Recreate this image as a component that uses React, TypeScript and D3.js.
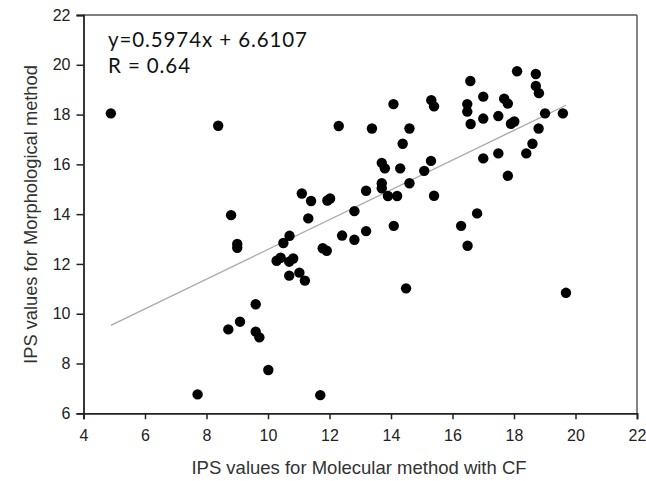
import React, { useEffect, useRef } from "react";
import * as d3 from "d3";

const xValues: number[] = [
  4.89, 8.38, 8.8, 9.0, 9.0, 7.71, 8.71, 9.09, 9.6, 9.6, 9.72, 10.01, 11.7, 10.28, 10.41, 10.69, 10.82,
  10.69, 11.02, 11.2, 10.5, 10.7, 11.1, 11.4, 11.31, 11.78, 11.91, 11.93, 12.02, 12.3, 12.41, 12.81,
  12.81, 13.19, 13.19, 13.38, 13.7, 13.8, 13.7, 13.7, 13.9, 14.08, 14.2, 14.3, 14.38, 14.6, 14.6, 14.09,
  14.49, 15.08, 15.3, 15.31, 15.4, 15.4, 16.28, 16.49, 16.8, 16.48, 16.48, 16.58, 16.59, 17.0, 17.0,
  17.0, 17.49, 17.49, 17.68, 17.8, 17.9, 18.01, 18.1, 17.8, 18.4, 18.6, 18.8, 18.71, 18.71, 18.81,
  19.01, 19.59, 19.69,
];
const yValues: number[] = [
  18.05, 17.55, 13.96, 12.8, 12.65, 6.76, 9.37, 9.68, 10.38, 9.28, 9.05, 7.74, 6.73, 12.13, 12.25, 12.09,
  12.22, 11.53, 11.65, 11.33, 12.84, 13.13, 14.83, 14.53, 13.83, 12.63, 12.53, 14.55, 14.63, 17.54,
  13.14, 14.12, 12.97, 14.94, 13.32, 17.44, 16.06, 15.84, 15.24, 15.04, 14.73, 18.42, 14.73, 15.84,
  16.83, 17.44, 15.24, 13.53, 11.02, 15.74, 16.14, 18.58, 18.33, 14.74, 13.53, 12.73, 14.03, 18.42,
  18.12, 19.35, 17.62, 18.72, 17.84, 16.24, 17.94, 16.44, 18.64, 18.44, 17.63, 17.72, 19.74, 15.54,
  16.44, 16.83, 17.44, 19.63, 19.15, 18.86, 18.05, 18.05, 10.84,
];
const xTicks: number[] = [4, 6, 8, 10, 12, 14, 16, 18, 20, 22];
const yTicks: number[] = [6, 8, 10, 12, 14, 16, 18, 20, 22];
const slope = 0.5974;
const intercept = 6.6107;
const equationText = "y=0.5974x + 6.6107";
const rText = "R = 0.64";
const xTitle = "IPS values for Molecular method with CF";
const yTitle = "IPS values for Morphological method";

const W = 646;
const H = 481;
const left = 83.5;
const right = 637;
const top = 15;
const bottom = 413.3;

export default function App() {
  const ref = useRef<SVGSVGElement | null>(null);

  useEffect(() => {
    const svg = d3.select(ref.current);
    svg.selectAll("*").remove();
    const x = d3.scaleLinear().domain([4, 22]).range([left, right]);
    const y = d3.scaleLinear().domain([6, 22]).range([bottom, top]);
    const font = "'Liberation Sans', Arial, sans-serif";

    // frame (top and right)
    svg.append("line").attr("x1", left).attr("x2", right).attr("y1", top).attr("y2", top)
      .attr("stroke", "#555").attr("stroke-width", 1.6);
    svg.append("line").attr("x1", right).attr("x2", right).attr("y1", top).attr("y2", bottom)
      .attr("stroke", "#666").attr("stroke-width", 1.6);

    const gx = svg.append("g").attr("transform", `translate(0,${bottom})`)
      .call(d3.axisBottom(x).tickValues(xTicks).tickSize(6).tickPadding(10.5).tickFormat(d3.format("d")) as any);
    const gy = svg.append("g").attr("transform", `translate(${left},0)`)
      .call(d3.axisLeft(y).tickValues(yTicks).tickSize(7).tickPadding(6).tickFormat(d3.format("d")) as any);
    [gx, gy].forEach((g) => {
      g.select(".domain").attr("stroke", "#222").attr("stroke-width", 1.8);
      g.selectAll(".tick line").attr("stroke", "#222").attr("stroke-width", 1.5);
      g.selectAll(".tick text").attr("fill", "#222").attr("font-size", 16).attr("font-family", font);
    });

    // regression line
    const ext = d3.extent(xValues) as [number, number];
    svg.append("line")
      .attr("x1", x(ext[0])).attr("y1", y(slope * ext[0] + intercept))
      .attr("x2", x(ext[1])).attr("y2", y(slope * ext[1] + intercept))
      .attr("stroke", "#aaa").attr("stroke-width", 1.3);

    // points
    svg.append("g").selectAll("circle").data(xValues.map((v, i) => [v, yValues[i]]))
      .join("circle")
      .attr("cx", (d) => x(d[0])).attr("cy", (d) => y(d[1])).attr("r", 5.2).attr("fill", "#000");

    // equation
    const eqFont = "Lato, 'Open Sans', sans-serif";
    svg.append("text").attr("x", 108).attr("y", 47).attr("font-family", eqFont)
      .attr("font-size", 20.5).attr("letter-spacing", 0.9).attr("fill", "#111").text(equationText);
    svg.append("text").attr("x", 108).attr("y", 73).attr("font-family", eqFont)
      .attr("font-size", 20.5).attr("letter-spacing", 0.9).attr("fill", "#111").text(rText);

    // titles
    svg.append("text").attr("x", 359).attr("y", 474).attr("text-anchor", "middle")
      .attr("font-family", font).attr("font-size", 18.5).attr("fill", "#333").text(xTitle);
    svg.append("text").attr("transform", `translate(36.5,214.5) rotate(-90)`).attr("text-anchor", "middle")
      .attr("font-family", font).attr("font-size", 18.3).attr("fill", "#333").text(yTitle);
  }, []);

  return (
    <svg ref={ref} width={W} height={H} style={{ position: "absolute", left: 0, top: 0, background: "#fff" }} />
  );
}
